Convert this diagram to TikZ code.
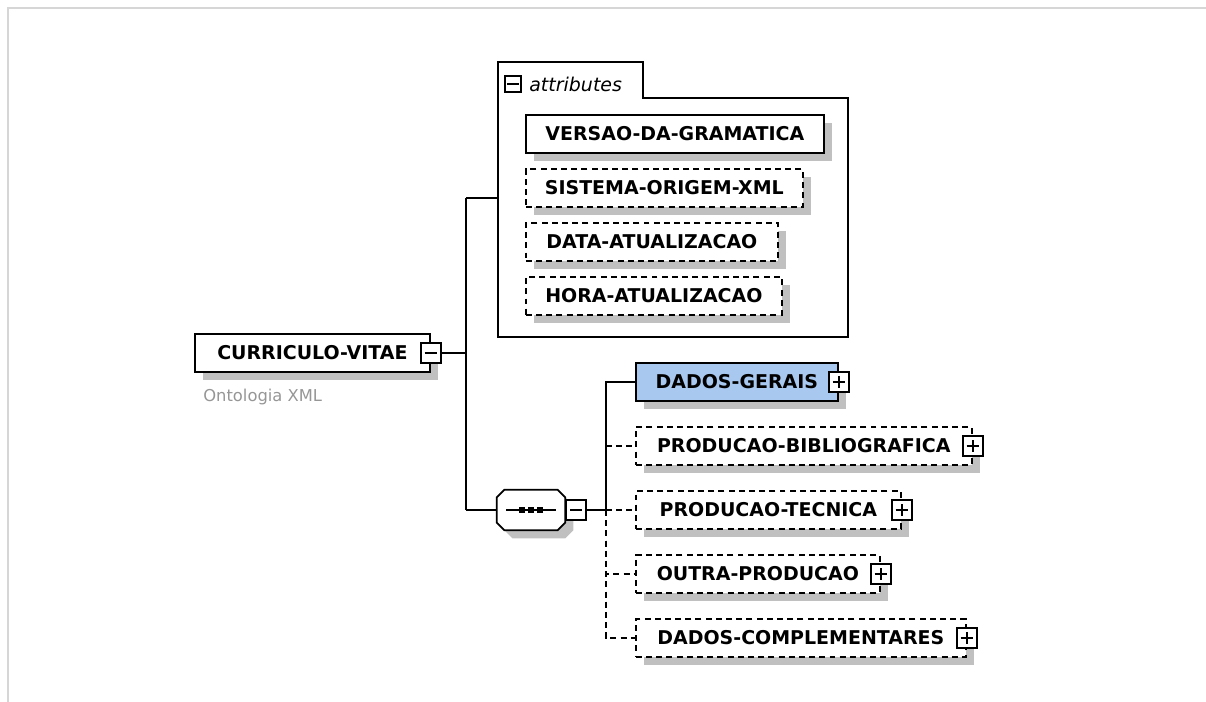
\documentclass[tikz,border=0pt]{standalone}
\usepackage{fontspec}
\setmainfont{DejaVu Sans}
\definecolor{shadowgray}{RGB}{192,192,192}
\definecolor{gerais}{RGB}{168,200,240}
\definecolor{framegray}{RGB}{214,214,214}
\definecolor{notegray}{RGB}{150,150,150}

\begin{document}
\begin{tikzpicture}[x=0.02cm, y=-0.02cm,
    shadow/.style={preaction={fill=shadowgray, transform canvas={xshift=4.5pt, yshift=-4.5pt}}},
    elem/.style={draw, fill=white, line width=1pt, anchor=west, inner sep=0pt,
        minimum height=0.75cm, font=\bfseries\fontsize{10.8}{13}\selectfont, shadow},
    optelem/.style={elem, dash pattern=on 3.4pt off 2.4pt},
    minusbox/.style={draw, fill=white, line width=1pt, minimum size=0.4cm, inner sep=0pt,
        path picture={\draw[line width=1pt]
            ([xshift=-3.4pt]path picture bounding box.center) -- ([xshift=3.4pt]path picture bounding box.center);}},
    plusbox/.style={draw, fill=white, line width=1pt, minimum size=0.4cm, inner sep=0pt,
        path picture={\draw[line width=1pt]
            ([xshift=-3.4pt]path picture bounding box.center) -- ([xshift=3.4pt]path picture bounding box.center)
            ([yshift=-3.4pt]path picture bounding box.center) -- ([yshift=3.4pt]path picture bounding box.center);}},
    conn/.style={line width=1pt},
    optconn/.style={conn, dash pattern=on 3.4pt off 2.4pt}
]
    \useasboundingbox (0,0) rectangle (1206,702);
    % Light frame round the diagram
    \draw[framegray, line width=1.2pt] (8,702) -- (8,8) -- (1206,8);

    % Root element with its note
    \node[elem, minimum width=4.7cm] (cv) at (194,353) {CURRICULO-VITAE};
    \node[minusbox] (cvx) at (cv.east) {};
    \node[anchor=west, inner sep=0pt, text=notegray, font=\fontsize{9.3}{11}\selectfont] (cvnote) at (203,397) {Ontologia XML};

    % Attribute group with its tab
    \node[inner sep=0pt, minimum width=6.98cm, minimum height=4.76cm, anchor=north west] (attr) at (498,98) {};
    \coordinate (tabtop) at (643,62);
    \draw[conn] (attr.south west) -- (attr.west |- tabtop) -- (tabtop) -- (tabtop |- attr.north)
        -| (attr.south east) -- cycle;
    \node[minusbox, minimum size=0.32cm] (attrx) at (513,84) {};
    \node[anchor=west, inner sep=0pt, font=\itshape\fontsize{10.8}{13}\selectfont] (attrlbl) at (529,84) {attributes};

    \node[elem, minimum width=5.96cm] (versao) at (525,134) {VERSAO-DA-GRAMATICA};
    \node[optelem, minimum width=5.54cm] (sistema) at (525,188) {SISTEMA-ORIGEM-XML};
    \node[optelem, minimum width=5.04cm] (data) at (525,242) {DATA-ATUALIZACAO};
    \node[optelem, minimum width=5.12cm] (hora) at (525,296) {HORA-ATUALIZACAO};

    % Sequence compositor: octagon with a dotted bar
    \node[inner sep=0pt, minimum width=1.36cm, minimum height=0.8cm] (seq) at (531,510) {};
    \draw[conn, fill=white, shadow]
        ([xshift=4.5pt]seq.north west) -- ([xshift=-4.5pt]seq.north east)
        -- ([yshift=-4.5pt]seq.north east) -- ([yshift=4.5pt]seq.south east)
        -- ([xshift=-4.5pt]seq.south east) -- ([xshift=4.5pt]seq.south west)
        -- ([yshift=4.5pt]seq.south west) -- ([yshift=-4.5pt]seq.north west) -- cycle;
    \draw[conn] ([xshift=-14pt]seq.center) -- ([xshift=14pt]seq.center);
    \foreach \dx in {-5.1pt, 0pt, 5.1pt}
        \fill[black] ([xshift=\dx]seq.center) +(-1.5pt,-1.5pt) rectangle +(1.5pt,1.5pt);
    \node[minusbox, anchor=west] (seqx) at (seq.east) {};

    % Child elements
    \node[elem, fill=gerais, minimum width=4.04cm] (gerais) at (635,382) {DADOS-GERAIS};
    \node[plusbox] (geraisx) at (gerais.east) {};
    \node[optelem, minimum width=6.72cm] (biblio) at (635,446) {PRODUCAO-BIBLIOGRAFICA};
    \node[plusbox] (bibliox) at (biblio.east) {};
    \node[optelem, minimum width=5.3cm] (tecnica) at (635,510) {PRODUCAO-TECNICA};
    \node[plusbox] (tecnicax) at (tecnica.east) {};
    \node[optelem, minimum width=4.88cm] (outra) at (635,574) {OUTRA-PRODUCAO};
    \node[plusbox] (outrax) at (outra.east) {};
    \node[optelem, minimum width=6.6cm] (compl) at (635,638) {DADOS-COMPLEMENTARES};
    \node[plusbox] (complx) at (compl.east) {};

    % Connectors
    \coordinate (jcv) at (466,353);
    \coordinate (jattr) at (466,198);
    \coordinate (jseq) at (466,510);
    \coordinate (jkids) at (606,510);
    \draw[conn] (cvx.east) -- (jcv);
    \draw[conn] (jattr) -- (jseq);
    \draw[conn] (jattr) -- (jattr -| attr.west);
    \draw[conn] (jseq) -- (seq.west);
    \draw[conn] (seqx.east) -- (jkids);
    \draw[conn] (jkids) |- (gerais.west);
    \draw[optconn] (jkids |- biblio.west) -- (biblio.west);
    \draw[optconn] (jkids) -- (tecnica.west);
    \draw[optconn] (jkids) |- (outra.west);
    \draw[optconn] (jkids) |- (compl.west);
\end{tikzpicture}
\end{document}
